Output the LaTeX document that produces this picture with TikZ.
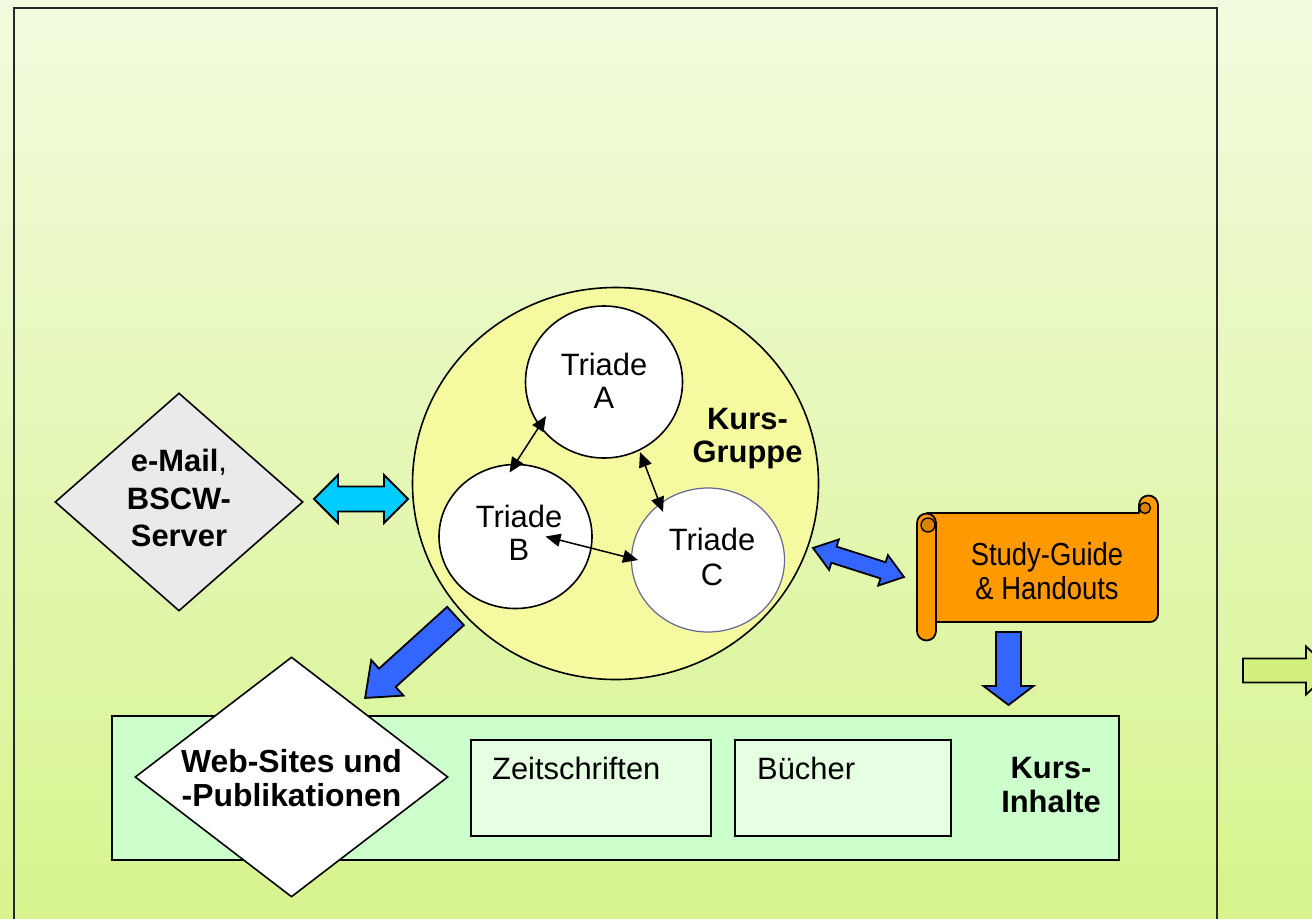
\documentclass[tikz,border=0pt]{standalone}
\usepackage{fontspec}
\setmainfont{Liberation Sans}
\newfontfamily\narrowfont[FakeStretch=0.86]{Liberation Sans}
\usetikzlibrary{shapes.geometric,arrows.meta,calc}
\definecolor{bgtop}{HTML}{F2FBDE}
\definecolor{bgbot}{HTML}{D7F48E}
\definecolor{groupfill}{HTML}{F5FAA0}
\definecolor{inhaltfill}{HTML}{CCFFCC}
\definecolor{boxfill}{HTML}{E6FFE2}
\definecolor{mailgray}{HTML}{EAEAEA}
\definecolor{cyanarrow}{HTML}{00CCFF}
\definecolor{bluearrow}{HTML}{3366FF}
\definecolor{scrollorange}{HTML}{FF9900}
\definecolor{scrolldark}{HTML}{D98200}
\definecolor{triadec}{HTML}{666699}
\definecolor{outlinegreen}{HTML}{D3F07F}
\begin{document}
\begin{tikzpicture}[x=1bp,y=-1bp,
  triad/.style={ellipse,draw=black,line width=1.6bp,fill=white,inner sep=0pt,minimum width=153bp,minimum height=144bp},
  txt/.style={font=\fontsize{31}{33}\selectfont,align=center,inner sep=0pt},
  btxt/.style={font=\bfseries\fontsize{31}{33}\selectfont,align=center,inner sep=0pt},
  link/.style={line width=1.5bp,{Triangle[length=15bp,width=13bp]}-{Triangle[length=15bp,width=13bp]}},
  blockarrow/.style={draw=black,line width=1.8bp,line join=miter},
  inbox/.style={rectangle,draw=black,line width=1.6bp,fill=boxfill,inner sep=0pt,minimum height=96bp},
  diam/.style={diamond,draw=black,line width=1.6bp,inner sep=0pt},
  scrollst/.style={draw=black,line width=1.8bp,fill=scrollorange,line join=round},
  curl/.style={draw=black,line width=1.4bp,fill=scrolldark},
]
\useasboundingbox (0,0) rectangle (1312,918);
\clip (0,0) rectangle (1312,918);
\shade[top color=bgtop,bottom color=bgbot] (0,0) rectangle (1312,918);
\draw[line width=2bp,draw=black!85] (14,7.5) rectangle (1216.5,940);

% Kurs-Inhalte
\node[rectangle,draw=black,line width=1.6bp,fill=inhaltfill,minimum width=1007bp,minimum height=144bp,inner sep=0pt] (KI) at (615.5,788) {};
\node[btxt,font=\bfseries\fontsize{31}{34}\selectfont] (KItext) at (1051,785) {Kurs-\\Inhalte};
\node[inbox,minimum width=240bp] (Z) at (591,788) {};
\node[inbox,minimum width=216bp] (BU) at (843,788) {};
\node[txt,anchor=base west] (Ztext) at (492,779) {Zeitschriften};
\node[txt,anchor=base west] (BUtext) at (757,779) {Bücher};

% Kurs-Gruppe
\node[ellipse,draw=black,line width=1.6bp,fill=groupfill,minimum width=406bp,minimum height=392bp,inner sep=0pt] (G) at (615.5,483.5) {};
\node[btxt] (Gtext) at (747.5,438.5) {Kurs-\\Gruppe};

\node[triad,minimum width=157bp,minimum height=152bp] (A) at (604,382) {};
\node[triad] (B) at (515.5,536.5) {};
\node[triad,draw=triadec,line width=1.2bp] (C) at (708,560) {};
\node[txt] (Atext) at (604,380.5) {Triade\\A};
\node[txt] (Btext) at (519,532.5) {Triade\\B};
\node[txt,font=\fontsize{31}{35}\selectfont] (Ctext) at (712,557) {Triade\\C};

\draw[link] ($(A.center)+(-58,34)$) -- ($(B.center)+(-6,-64)$);
\draw[link] ($(A.center)+(36,70)$) -- ($(C.center)+(-45,-48)$);
\draw[link] ($(B.center)+(30,0)$) -- ($(C.center)+(-70,0)$);

% e-Mail diamond
\node[diam,fill=mailgray,minimum width=248bp,minimum height=218bp] (M) at (179,502) {};
\node[btxt,font=\bfseries\fontsize{31}{37.5}\selectfont] (Mtext) at (179,498) {e-Mail\textmd{,}\\BSCW-\\Server};

% Web diamond
\node[diam,fill=white,minimum width=313bp,minimum height=240bp] (W) at (291.5,777) {};
\node[btxt,font=\bfseries\fontsize{32}{34}\selectfont] (Wtext) at (291.5,778.5) {Web-Sites und\\-Publikationen};

% scroll
\path[scrollst] (927,513) -- (1139,513) -- (1139,505) arc[start angle=180,end angle=360,radius=9.5] -- (1158,614) arc[start angle=0,end angle=90,radius=8] -- (927,622) -- cycle;
\path[curl] (1145,508) circle[radius=5.5];
\path[scrollst] (917,523) arc[start angle=180,end angle=360,radius=9.5] -- (936,631) arc[start angle=0,end angle=180,radius=9.5] -- cycle;
\path[curl] (928,525) circle[radius=7];
\node[txt,font=\narrowfont\fontsize{32}{34}\selectfont] (Stext) at (1047,571) {Study-Guide\\\& Handouts};

% block arrows
\begin{scope}[shift={(361,499)}]
\draw[blockarrow,fill=cyanarrow] (-47,0) -- (-23,-24) -- (-23,-12.5) -- (23,-12.5) -- (23,-24) -- (47,0) -- (23,24) -- (23,12.5) -- (-23,12.5) -- (-23,24) -- cycle;
\end{scope}
\begin{scope}[shift={(858.5,562.5)},rotate=-17.7]
\draw[blockarrow,fill=bluearrow] (-47.75,0) -- (-25.75,-16) -- (-25.75,-8.5) -- (25.75,-8.5) -- (25.75,-16) -- (47.75,0) -- (25.75,16) -- (25.75,8.5) -- (-25.75,8.5) -- (-25.75,16) -- cycle;
\end{scope}
\begin{scope}[shift={(455.5,616)},rotate=222.2]
\draw[blockarrow,fill=bluearrow] (0,-12.4) -- (92,-12.4) -- (92,-24) -- (122,0) -- (92,24) -- (92,12.4) -- (0,12.4) -- cycle;
\end{scope}
\begin{scope}[shift={(1008.5,632)},rotate=-90]
\draw[blockarrow,fill=bluearrow] (0,-12.5) -- (54,-12.5) -- (54,-25) -- (73,0) -- (54,25) -- (54,12.5) -- (0,12.5) -- cycle;
\end{scope}
\begin{scope}[shift={(1243,670.5)}]
\draw[blockarrow,fill=outlinegreen] (0,-12) -- (63,-12) -- (63,-24) -- (89,0) -- (63,24) -- (63,12) -- (0,12) -- cycle;
\end{scope}
\end{tikzpicture}
\end{document}
